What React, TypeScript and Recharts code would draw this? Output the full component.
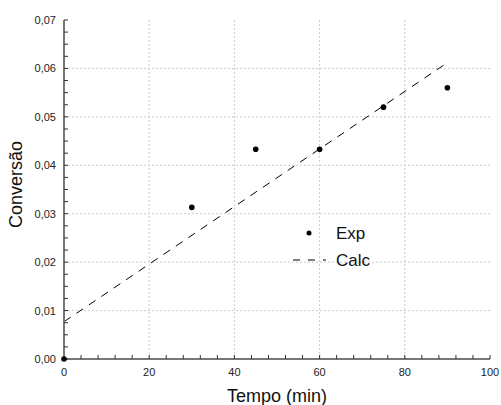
import {
  ComposedChart, Scatter, Line, XAxis, YAxis, CartesianGrid, Legend, Label,
} from 'recharts';

const timeMin = [0, 30, 45, 60, 75, 90];
const conversionExp = [0.0, 0.0313, 0.0433, 0.0433, 0.052, 0.056];
const calcTime = [0, 90];
const conversionCalc = [0.0077, 0.0612];

const xMajor = [0, 20, 40, 60, 80, 100];
const xMinor = Array.from({ length: 26 }, (_, i) => i * 4);
const yMinor = Array.from({ length: 29 }, (_, i) => Number((i * 0.0025).toFixed(4)));

const expData = timeMin.map((x, i) => ({ x, y: conversionExp[i] }));
const calcData = calcTime.map((x, i) => ({ x, y: conversionCalc[i] }));

const FONT = '"Liberation Sans", Arial, sans-serif';
const fmtY = (v: number) => v.toFixed(2).replace('.', ',');
const isMajorX = (v: number) => xMajor.includes(v);
const isMajorY = (v: number) => Math.round(v * 10000) % 100 === 0;

const XTick = ({ x, y, payload }: any) =>
  isMajorX(payload.value) ? (
    <text x={x} y={y + 21} textAnchor="middle" fontSize={11} fill="#222">{payload.value}</text>
  ) : <g />;

const YTick = ({ x, y, payload }: any) =>
  isMajorY(payload.value) ? (
    <text x={x - 12} y={y + 4} textAnchor="end" fontSize={11} fill="#222">{fmtY(payload.value)}</text>
  ) : <g />;

const LegendBox = () => (
  <svg width={110} height={50} style={{ fontFamily: FONT }}>
    <circle cx={19} cy={13} r={2.5} fill="#000" />
    <text x={46} y={19} fontSize={17} fill="#111">Exp</text>
    <line x1={3} y1={40} x2={36} y2={40} stroke="#000" strokeDasharray="7 8" />
    <text x={46} y={46} fontSize={17} fill="#111">Calc</text>
  </svg>
);

export default function App() {
  return (
    <div style={{ position: 'absolute', left: 0, top: 0, width: 501, height: 405, fontFamily: FONT, background: '#fff' }}>
      <ComposedChart width={501} height={405} margin={{ top: 20, right: 11, bottom: 0, left: 0 }}>
        <CartesianGrid
          stroke="#cbcbcb"
          strokeDasharray="2 2"
          horizontalValues={[0.01, 0.02, 0.03, 0.04, 0.05, 0.06]}
          verticalValues={[20, 40, 60, 80]}
        />
        <XAxis
          dataKey="x" type="number" domain={[0, 100]} ticks={xMinor} interval={0}
          height={46} tickSize={-4} tickMargin={0}
          axisLine={{ stroke: '#777', strokeWidth: 2 }} tickLine={{ stroke: '#333' }}
          tick={XTick}
        >
          <Label value="Tempo (min)" position="insideBottom" offset={3} fontSize={18} fill="#111" />
        </XAxis>
        <XAxis
          xAxisId="top" orientation="top" type="number" domain={[0, 100]} ticks={xMinor} interval={0}
          height={0} tickSize={-4} axisLine={{ stroke: '#444', strokeWidth: 1.5 }} tickLine={{ stroke: '#333' }}
          tick={() => <g />}
        />
        <YAxis
          dataKey="y" type="number" domain={[0, 0.07]} ticks={yMinor} interval={0}
          width={64} tickSize={-4} tickMargin={0}
          axisLine={{ stroke: '#777', strokeWidth: 2 }} tickLine={{ stroke: '#333' }}
          tick={YTick}
        >
          <Label
            content={({ viewBox }: any) => {
              const cx = 16;
              const cy = viewBox.y + viewBox.height / 2 - 5;
              return (
                <text x={cx} y={cy} transform={`rotate(-90, ${cx}, ${cy})`} textAnchor="middle"
                  dominantBaseline="central" fontSize={18} fill="#111">Conversão</text>
              );
            }}
          />
        </YAxis>
        <YAxis
          yAxisId="right" orientation="right" type="number" domain={[0, 0.07]} ticks={yMinor} interval={0}
          width={0} tickSize={-4} axisLine={{ stroke: '#444', strokeWidth: 1.5 }} tickLine={{ stroke: '#333' }}
          tick={() => <g />}
        />
        <Legend
          layout="vertical" align="center" verticalAlign="middle"
          wrapperStyle={{ left: 290, top: 220, width: 110, height: 50 }}
          content={LegendBox}
        />
        <Line
          data={calcData} dataKey="y" name="Calc" type="linear" stroke="#000" strokeWidth={1}
          strokeDasharray="8 7" dot={false} activeDot={false} isAnimationActive={false}
        />
        <Scatter
          data={expData} dataKey="y" name="Exp" isAnimationActive={false}
          shape={(p: any) => <circle cx={p.cx} cy={p.cy} r={2.8} fill="#000" />}
        />
      </ComposedChart>
    </div>
  );
}
